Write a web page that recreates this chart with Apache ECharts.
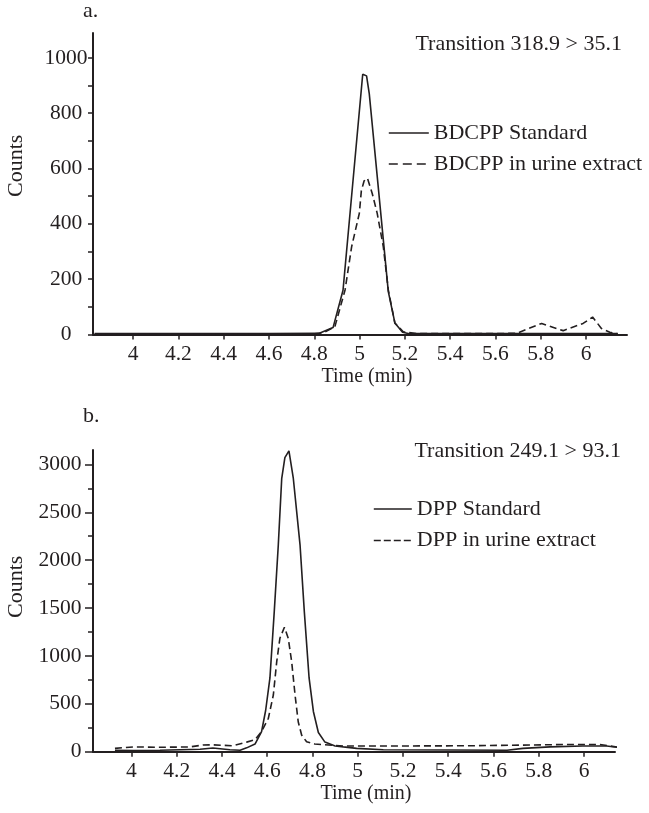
<!DOCTYPE html>
<html><head><meta charset="utf-8">
<script src="https://cdn.jsdelivr.net/npm/echarts@6/dist/echarts.min.js"></script>
<style>html,body{margin:0;padding:0;background:#fff}#c{width:649px;height:813px}</style>
</head><body><div id="c"></div>
<script>
// ---- Panel a: BDCPP, transition 318.9 > 35.1 ----
const timeA_std = [3.83, 4.20, 4.60, 4.82, 4.883, 4.927, 5.014, 5.031, 5.043, 5.127, 5.156, 5.19, 5.22, 5.6, 6.0, 6.14];
const countsA_std = [3, 3, 3, 4, 25, 160, 941, 935, 870, 155, 42, 8, 3, 3, 3, 3];
const timeA_urine = [3.83, 4.80, 4.84, 4.891, 4.936, 4.965, 4.999, 5.008, 5.02, 5.035, 5.056, 5.078, 5.105, 5.127, 5.156, 5.193, 5.25, 5.693, 5.804, 5.899, 5.987, 6.029, 6.068, 6.105, 6.14];
const countsA_urine = [2, 2, 6, 28, 161, 317, 438, 520, 555, 565, 510, 438, 317, 161, 41, 10, 3, 4, 40, 14, 40, 63, 22, 8, 3];

// ---- Panel b: DPP, transition 249.1 > 93.1 ----
const timeB_std = [3.927, 4.007, 4.126, 4.303, 4.36, 4.435, 4.48, 4.509, 4.546, 4.575, 4.593, 4.612, 4.631, 4.649, 4.664, 4.678, 4.696, 4.715, 4.745, 4.764, 4.785, 4.804, 4.826, 4.855, 4.9, 4.936, 4.995, 5.113, 5.408, 5.66, 5.73, 5.85, 5.995, 6.1, 6.17];
const countsB_std = [15, 12, 15, 25, 38, 20, 15, 40, 80, 209, 430, 770, 1460, 2160, 2850, 3070, 3140, 2860, 2160, 1460, 770, 420, 200, 100, 60, 50, 35, 20, 18, 15, 35, 50, 60, 60, 40];
const timeB_urine = [3.927, 4.007, 4.126, 4.258, 4.316, 4.36, 4.449, 4.509, 4.546, 4.575, 4.605, 4.627, 4.642, 4.656, 4.676, 4.693, 4.708, 4.723, 4.737, 4.752, 4.774, 4.81, 4.935, 5.2, 5.5, 5.925, 6.07, 6.17];
const countsB_urine = [35, 50, 46, 50, 70, 72, 62, 100, 125, 210, 349, 592, 940, 1184, 1300, 1184, 940, 592, 313, 174, 104, 80, 60, 60, 62, 75, 75, 40];

// ---- tick labels ----
const xTicks = [4, 4.2, 4.4, 4.6, 4.8, 5, 5.2, 5.4, 5.6, 5.8, 6];
const yLabelsA = [0, 200, 400, 600, 800, 1000];
const yTicksA = [0, 100, 200, 300, 400, 500, 600, 700, 800, 900, 1000];
const yLabelsB = [0, 500, 1000, 1500, 2000, 2500, 3000];
const yMinorB = [250, 750, 1250, 1750, 2250, 2750];

const seriesNames = ['BDCPP Standard', 'BDCPP in urine extract', 'DPP Standard', 'DPP in urine extract'];
const panelTitles = ['a.', 'b.'];
const transitions = ['Transition 318.9 > 35.1', 'Transition 249.1 > 93.1'];

const FONT = '"Liberation Serif", "Times New Roman", serif';
const INK = '#231f20';
const zip = (xs, ys) => xs.map((x, i) => [x, ys[i]]);
const plain = v => String(v);

function xAxisFor(gi, min, max, namePadLeft) {
  return {
    type: 'value', gridIndex: gi, min: min, max: max,
    name: 'Time (min)', nameLocation: 'middle', nameGap: 30,
    nameTextStyle: { fontFamily: FONT, fontSize: 20, color: INK, padding: [0, 0, 0, namePadLeft] },
    axisLine: { show: true, onZero: false, lineStyle: { color: INK, width: 2 } },
    axisTick: { show: true, customValues: xTicks, length: 5, lineStyle: { color: INK, width: 1.5 } },
    axisLabel: { customValues: xTicks, formatter: plain, margin: 9, fontFamily: FONT, fontSize: 21.5, color: INK },
    splitLine: { show: false }
  };
}

const lineBase = (name, xi, xs, ys, dashed) => ({
  name: name, type: 'line', xAxisIndex: xi, yAxisIndex: xi === 0 ? 0 : 1,
  data: zip(xs, ys), symbol: 'none', showSymbol: false, clip: false,
  itemStyle: { color: INK },
  lineStyle: { color: INK, width: 1.6, type: dashed ? [7, 4] : 'solid' },
  emphasis: { disabled: true }
});

const legendText = { fontFamily: FONT, fontSize: 22, lineHeight: 22, color: INK };
const titleText = { fontFamily: FONT, fontSize: 22, fontWeight: 'normal', color: INK };
const legendItemStyle = { opacity: 0, borderWidth: 0 };

const option = {
  animation: false,
  backgroundColor: '#ffffff',
  textStyle: { fontFamily: FONT, color: INK },
  title: [
    { text: panelTitles[0], left: 83, top: 0, padding: 0, textStyle: titleText },
    { text: transitions[0], right: 27, top: 33, padding: 0, textStyle: titleText },
    { text: panelTitles[1], left: 83, top: 405, padding: 0, textStyle: titleText },
    { text: transitions[1], right: 28, top: 440, padding: 0, textStyle: titleText }
  ],
  legend: [
    { orient: 'vertical', left: 388, top: 122, padding: 0, itemWidth: 40, itemHeight: 14, itemGap: 9,
      selectedMode: false, textStyle: legendText, itemStyle: legendItemStyle,
      lineStyle: { width: 1.6 },
      data: [ { name: seriesNames[0] }, { name: seriesNames[1], lineStyle: { type: [9, 5] } } ] },
    { orient: 'vertical', left: 373, top: 498, padding: 0, itemWidth: 38, itemHeight: 14, itemGap: 9.5,
      selectedMode: false, textStyle: legendText, itemStyle: legendItemStyle,
      lineStyle: { width: 1.6 },
      data: [ { name: seriesNames[2] }, { name: seriesNames[3], lineStyle: { type: [7, 3] } } ] }
  ],
  grid: [
    { left: 93, right: 22, top: 33, bottom: 478.5, outerBoundsMode: 'none' },
    { left: 93, right: 34, top: 450, bottom: 61.3, outerBoundsMode: 'none' }
  ],
  xAxis: [
    xAxisFor(0, 3.823, 6.181, 14),
    xAxisFor(1, 3.83, 6.137, 24)
  ],
  yAxis: [
    { type: 'value', gridIndex: 0, min: 0, max: 1090, position: 'left',
      name: 'Counts', nameLocation: 'middle', nameGap: 66, nameRotate: 90,
      nameTextStyle: { fontFamily: FONT, fontSize: 22, color: INK, padding: [0, 0, 0, 36] },
      axisLine: { show: true, onZero: false, lineStyle: { color: INK, width: 2 } },
      axisTick: { show: true, customValues: yTicksA, length: 5, lineStyle: { color: INK, width: 1.5 } },
      axisLabel: { customValues: yLabelsA, formatter: plain, margin: 27, align: 'center', fontFamily: FONT, fontSize: 21.5, color: INK },
      splitLine: { show: false } },
    { type: 'value', gridIndex: 1, min: 0, max: 3150, position: 'left',
      name: 'Counts', nameLocation: 'middle', nameGap: 66, nameRotate: 90,
      nameTextStyle: { fontFamily: FONT, fontSize: 22, color: INK, padding: [0, 0, 0, 28] },
      axisLine: { show: true, onZero: false, lineStyle: { color: INK, width: 2 } },
      axisTick: { show: true, customValues: yLabelsB, length: 8, lineStyle: { color: INK, width: 1.5 } },
      axisLabel: { customValues: yLabelsB, formatter: plain, margin: 11.5, align: 'right', fontFamily: FONT, fontSize: 21.5, color: INK },
      splitLine: { show: false } },
    { type: 'value', gridIndex: 1, min: 0, max: 3150, position: 'left', offset: 0,
      axisLine: { show: false },
      axisTick: { show: true, customValues: yMinorB, length: 5, lineStyle: { color: INK, width: 1.5 } },
      axisLabel: { show: false },
      splitLine: { show: false } }
  ],
  series: [
    lineBase(seriesNames[0], 0, timeA_std, countsA_std, false),
    lineBase(seriesNames[1], 0, timeA_urine, countsA_urine, true),
    lineBase(seriesNames[2], 1, timeB_std, countsB_std, false),
    lineBase(seriesNames[3], 1, timeB_urine, countsB_urine, true)
  ]
};

const chart = echarts.init(document.getElementById('c'), null, { renderer: 'canvas' });
chart.setOption(option);
</script>
</body></html>
